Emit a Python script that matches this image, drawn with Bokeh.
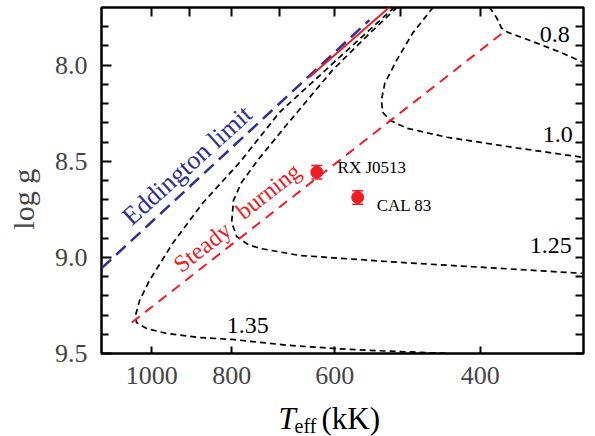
import numpy as np
from bokeh.plotting import figure
from bokeh.layouts import column
from bokeh.models import (Range1d, FixedTicker, NumeralTickFormatter, LogAxis,
                          LinearAxis, Label, ColumnDataSource)
from bokeh.embed import file_html
from bokeh.resources import INLINE
from bokeh.core.properties import value

# ---------------- data (Teff in kK, log g) ----------------
edd_T = [1150, 545]
edd_g = [9.057, 7.766]

sb_T = [1057, 376]
sb_g = [9.339, 7.833]

sb_solid_T = [644, 515]
sb_solid_g = [8.062, 7.698]

m135_T = [508, 592, 700, 782, 868, 943, 1006, 1034, 1046, 1043, 1014, 959, 875, 798, 681, 576, 501, 436]
m135_g = [7.698, 7.958, 8.245, 8.505, 8.719, 8.927, 9.120, 9.224, 9.302, 9.339, 9.370, 9.396, 9.417, 9.427, 9.458, 9.479, 9.490, 9.500]

m125_T = [504, 544, 604, 687, 744, 778, 796, 800, 789, 765, 740, 662, 501, 379, 301]
m125_g = [7.698, 7.833, 8.026, 8.3125, 8.495, 8.609, 8.703, 8.818, 8.891, 8.932, 8.953, 8.990, 9.026, 9.057, 9.083]

m10_T = [456, 483, 505, 522, 527, 525, 515, 491, 439, 366, 301]
m10_g = [7.698, 7.833, 7.974, 8.094, 8.182, 8.245, 8.286, 8.328, 8.375, 8.427, 8.479]

m08_T = [390, 382, 377, 371, 349, 318, 301]
m08_g = [7.698, 7.755, 7.807, 7.828, 7.870, 7.9375, 7.984]

obj_names = ["RX J0513", "CAL 83"]
obj_T = [631, 563]
obj_g = [8.557, 8.688]
obj_err = [0.035, 0.035]

x_ticks = [1000, 800, 600, 400]
x_minor = [900, 700, 500]
y_ticks = [8.0, 8.5, 9.0, 9.5]
y_minor = [7.8, 7.9, 8.1, 8.2, 8.3, 8.4, 8.6, 8.7, 8.8, 8.9, 9.1, 9.2, 9.3, 9.4]

mass_labels = ["0.8", "1.0", "1.25", "1.35"]
mass_label_T = [339, 336, 348.5, 811]
mass_label_g = [7.880, 8.401, 8.979, 9.391]

# ---------------- styles ----------------
SERIF = "Liberation Serif"
BLUE = "#2e3192"
RED = "#ee1c25"
W = 587
H_MAIN = 395
H_TITLE = 41

p = figure(width=W, height=H_MAIN, x_axis_type="log",
           x_range=Range1d(1150, 300), y_range=Range1d(9.5, 7.7),
           output_backend="svg", toolbar_location=None,
           min_border_left=101, min_border_right=4, min_border_top=7,
           min_border_bottom=42)
p.grid.visible = False
p.outline_line_color = "black"
p.outline_line_width = 2.5
p.background_fill_color = "white"
p.border_fill_color = "white"

# bottom axis
xa = p.xaxis[0]
xa.ticker = FixedTicker(ticks=x_ticks, minor_ticks=[])
xa.formatter = NumeralTickFormatter(format="0")
xa.major_tick_in = 7
xa.major_tick_out = 0
xa.minor_tick_in = 0
xa.minor_tick_out = 0
xa.major_tick_line_width = 2
xa.axis_line_color = None
xa.major_label_text_font = SERIF
xa.major_label_text_font_size = "26px"
xa.major_label_standoff = 13

# left axis
ya = p.yaxis[0]
ya.ticker = FixedTicker(ticks=y_ticks, minor_ticks=y_minor)
ya.formatter = NumeralTickFormatter(format="0.0")
ya.major_tick_in = 10
ya.major_tick_out = 0
ya.minor_tick_in = 7
ya.minor_tick_out = 0
ya.major_tick_line_width = 2
ya.minor_tick_line_width = 2
ya.axis_line_color = None
ya.major_label_text_font = SERIF
ya.major_label_text_font_size = "26px"
ya.major_label_standoff = 14
ya.axis_label = "log g" + "\u00a0" * 5
ya.axis_label_text_font = SERIF
ya.axis_label_text_font_size = "30px"
ya.axis_label_text_font_style = "normal"
ya.axis_label_standoff = 12

# top axis (ticks only, drawn as minor ticks so no labels exist)
ta = LogAxis(ticker=FixedTicker(ticks=[], minor_ticks=x_ticks + x_minor))
ta.major_tick_in = 0
ta.major_tick_out = 0
ta.minor_tick_in = 9
ta.minor_tick_out = 0
ta.minor_tick_line_width = 2
ta.axis_line_color = None
p.add_layout(ta, "above")

# right axis (ticks only)
ra = LinearAxis(ticker=FixedTicker(ticks=[], minor_ticks=y_ticks + y_minor))
ra.major_tick_in = 0
ra.major_tick_out = 0
ra.minor_tick_in = 8
ra.minor_tick_out = 0
ra.minor_tick_line_width = 2
ra.axis_line_color = None
p.add_layout(ra, "right")

# ---------------- lines ----------------
for T, g in [(m135_T, m135_g), (m125_T, m125_g), (m10_T, m10_g), (m08_T, m08_g)]:
    p.line(T, g, line_color="black", line_width=1.7, line_dash="6 4")

p.line(edd_T, edd_g, line_color=BLUE, line_width=2.5, line_dash="13 7")
p.line(sb_T, sb_g, line_color=RED, line_width=2, line_dash="10 7")
p.line(sb_solid_T, sb_solid_g, line_color=RED, line_width=2)

# ---------------- observed objects ----------------
src = ColumnDataSource(dict(T=obj_T, g=obj_g,
                            lo=[g + e for g, e in zip(obj_g, obj_err)],
                            hi=[g - e for g, e in zip(obj_g, obj_err)]))
p.segment(x0="T", y0="lo", x1="T", y1="hi", source=src, line_color=RED, line_width=1.5)
p.scatter(x="T", y="lo", source=src, marker="dash", size=11, line_color=RED, line_width=1.5)
p.scatter(x="T", y="hi", source=src, marker="dash", size=11, line_color=RED, line_width=1.5)
p.scatter(x="T", y="g", source=src, marker="circle", size=12, fill_color=RED, line_color=RED)

p.add_layout(Label(x=595.5, y=8.583, text=obj_names[0], text_font=SERIF,
                   text_font_size="17px", text_color="black"))
p.add_layout(Label(x=534, y=8.781, text=obj_names[1], text_font=SERIF,
                   text_font_size="17px", text_color="black"))

# mass labels
for t, x, y in zip(mass_labels, mass_label_T, mass_label_g):
    p.add_layout(Label(x=x, y=y, text=t, text_font=SERIF, text_font_size="24px",
                       text_color="black"))

# rotated line labels
p.add_layout(Label(x=1045, y=8.862, text="Eddington limit", text_font=SERIF,
                   text_font_size="26px", text_color=BLUE, angle=np.deg2rad(42)))
p.add_layout(Label(x=912, y=9.104, text="Steady", text_font=SERIF,
                   text_font_size="24px", text_color=RED, angle=np.deg2rad(38)))
p.add_layout(Label(x=767, y=8.828, text="burning", text_font=SERIF,
                   text_font_size="24px", text_color=RED, angle=np.deg2rad(38)))

# ---------------- x-axis title strip (page-pixel coordinates) ----------------
q = figure(width=W, height=H_TITLE, x_range=Range1d(101, 583),
           y_range=Range1d(H_MAIN + H_TITLE, H_MAIN),
           x_axis_type=None, y_axis_type=None, output_backend="svg",
           toolbar_location=None, min_border=0)
try:
    q.title = None
except Exception:
    q.title.visible = False
q.grid.visible = False
q.outline_line_color = None
q.background_fill_color = "white"
q.border_fill_color = "white"
q.text(x=[278], y=[418], text=["T"], text_font=value(SERIF), text_font_size="31px",
       text_font_style="italic", text_color="black", text_baseline="alphabetic")
q.text(x=[294], y=[425], text=["eff"], text_font=value(SERIF), text_font_size="20px",
       text_color="black", text_baseline="alphabetic")
q.text(x=[321], y=[418], text=["(kK)"], text_font=value(SERIF), text_font_size="31px",
       text_color="black", text_baseline="alphabetic")

layout = column(p, q, spacing=0)
open("out.html", "w").write(file_html(layout, INLINE))
